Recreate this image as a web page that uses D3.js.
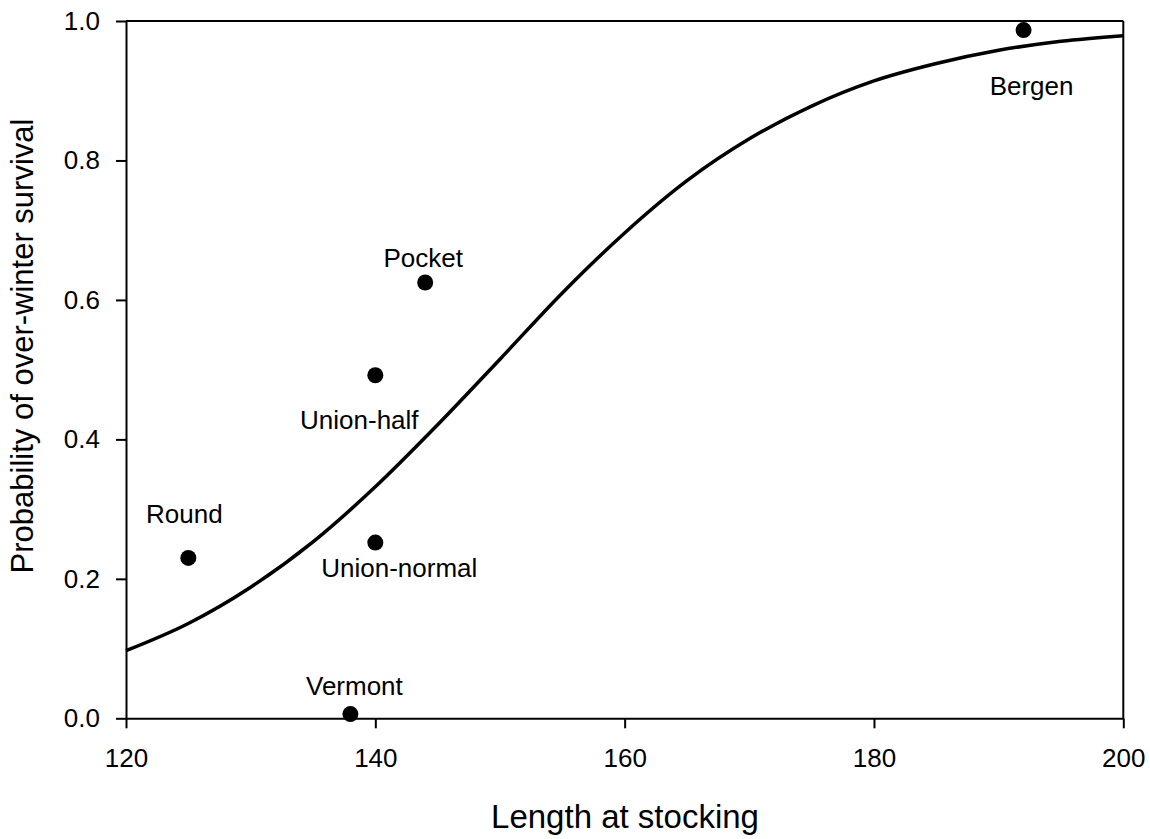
<!DOCTYPE html>
<html>
<head>
<meta charset="utf-8">
<script src="https://cdn.jsdelivr.net/npm/d3@7"></script>
<style>
  html, body { margin: 0; padding: 0; background: #fff; }
  svg { display: block; font-family: Arial, "Liberation Sans", sans-serif; }
</style>
</head>
<body>
<svg id="chart" width="1150" height="839"></svg>
<script>
// Stocking sites: length at stocking and observed over-winter survival
const sites = ["Bergen", "Pocket", "Union-half", "Round", "Union-normal", "Vermont"];
const siteLength = [192, 144, 140, 125, 140, 138];
const siteSurvival = [0.987, 0.625, 0.492, 0.230, 0.252, 0.006];

// Fitted survival curve, sampled along the length axis
const curveLength = [120, 125, 130, 135, 140, 145, 150, 155, 160, 165, 170, 175, 180, 185, 190, 195, 200];
const curveSurvival = [0.097, 0.136, 0.188, 0.253, 0.332, 0.421, 0.515, 0.610, 0.696, 0.771, 0.831, 0.878, 0.914, 0.939, 0.958, 0.971, 0.979];

// Axis ticks
const xTicks = [120, 140, 160, 180, 200];
const yTicks = [0.0, 0.2, 0.4, 0.6, 0.8, 1.0];

// Label placement relative to each site's marker (pixels)
const labelOffset = {
  "Bergen": [8, 65],
  "Pocket": [-2, -15],
  "Union-half": [-16, 53.5],
  "Round": [-4, -34.5],
  "Union-normal": [24, 34],
  "Vermont": [4, -19]
};

const svg = d3.select("#chart");
const W = 1150, H = 839;
const margin = { left: 126, top: 21, right: 26.7, bottom: 120.7 };
const plotW = W - margin.left - margin.right;
const plotH = H - margin.top - margin.bottom;

const x = d3.scaleLinear().domain([120, 200]).range([0, plotW]);
const y = d3.scaleLinear().domain([0, 1]).range([plotH, 0]);

const g = svg.append("g").attr("transform", `translate(${margin.left},${margin.top})`);

// Frame top and right
g.append("line").attr("x1", 0).attr("x2", plotW).attr("y1", 0).attr("y2", 0)
  .attr("stroke", "#000").attr("stroke-width", 2);
g.append("line").attr("x1", plotW).attr("x2", plotW).attr("y1", 0).attr("y2", plotH)
  .attr("stroke", "#000").attr("stroke-width", 2);

// Axes
const xAxis = g.append("g").attr("transform", `translate(0,${plotH})`)
  .call(d3.axisBottom(x).tickValues(xTicks).tickSize(10).tickPadding(20).tickSizeOuter(0).tickFormat(d3.format("d")));
const yAxis = g.append("g")
  .call(d3.axisLeft(y).tickValues(yTicks).tickSize(10).tickPadding(16).tickSizeOuter(0).tickFormat(d3.format(".1f")));

[xAxis, yAxis].forEach(a => {
  a.select(".domain").attr("stroke", "#000").attr("stroke-width", 2);
  a.selectAll(".tick line").attr("stroke", "#000").attr("stroke-width", 2);
  a.selectAll(".tick text").attr("fill", "#000").style("font-size", "26px")
    .style("font-family", "Arial, 'Liberation Sans', sans-serif");
});

// Fitted curve
const curveData = curveLength.map((v, i) => [v, curveSurvival[i]]);
g.append("path")
  .datum(curveData)
  .attr("fill", "none")
  .attr("stroke", "#000")
  .attr("stroke-width", 3.5)
  .attr("d", d3.line().x(d => x(d[0])).y(d => y(d[1])).curve(d3.curveMonotoneX));

// Site markers and labels
const siteData = sites.map((s, i) => ({ name: s, len: siteLength[i], surv: siteSurvival[i] }));
g.selectAll("circle.site").data(siteData).join("circle")
  .attr("class", "site")
  .attr("cx", d => x(d.len))
  .attr("cy", d => y(d.surv))
  .attr("r", 8)
  .attr("fill", "#000");

g.selectAll("text.site-label").data(siteData).join("text")
  .attr("class", "site-label")
  .attr("x", d => x(d.len) + labelOffset[d.name][0])
  .attr("y", d => y(d.surv) + labelOffset[d.name][1])
  .attr("text-anchor", "middle")
  .style("font-size", "26px")
  .attr("fill", "#000")
  .text(d => d.name);

// Axis titles
svg.append("text")
  .attr("x", 625)
  .attr("y", 828)
  .attr("text-anchor", "middle")
  .style("font-size", "33px")
  .text("Length at stocking");

svg.append("text")
  .attr("transform", "translate(33,346) rotate(-90)")
  .attr("text-anchor", "middle")
  .style("font-size", "31px")
  .text("Probability of over-winter survival");
</script>
</body>
</html>
